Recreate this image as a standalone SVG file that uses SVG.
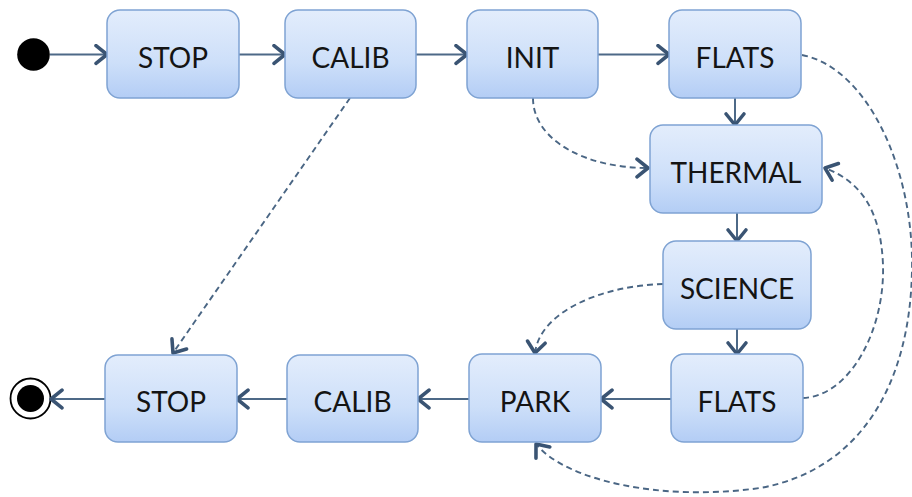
<svg xmlns="http://www.w3.org/2000/svg" width="912" height="497" viewBox="0 0 912 497">
  <defs>
    <linearGradient id="boxFill" x1="0" y1="0" x2="0" y2="1">
      <stop offset="0" stop-color="#e3edfc"/>
      <stop offset="0.6" stop-color="#cddff9"/>
      <stop offset="1" stop-color="#b3cdf5"/>
    </linearGradient>
    <marker id="chev" markerUnits="userSpaceOnUse" markerWidth="18" markerHeight="22" viewBox="-2 -2 14 21" refX="10.5" refY="8.5" orient="auto">
      <path d="M0,0 L10.5,8.5 L0,17" fill="none" stroke="#3a5473" stroke-width="3.4" stroke-linecap="round" stroke-linejoin="round"/>
    </marker>
    <style>
      .state rect { fill: url(#boxFill); stroke: #7fa3d3; stroke-width: 1.5; }
      .state text { font-family: Lato, "Open Sans", "Liberation Sans", sans-serif; font-size: 28px; fill: #141414; text-anchor: middle; }
      .flow { fill: none; stroke: #4d6987; stroke-width: 2; marker-end: url(#chev); }
      .alt { fill: none; stroke: #4a6684; stroke-width: 1.9; stroke-dasharray: 6 4; marker-end: url(#chev); }
    </style>
  </defs>

  <!-- pseudo-states -->
  <g id="start">
    <circle cx="33.5" cy="54.5" r="16.3" fill="#000"/>
  </g>
  <g id="end">
    <circle cx="30.5" cy="398.5" r="20" fill="#fff" stroke="#000" stroke-width="1.8"/>
    <circle cx="30.5" cy="398.5" r="13.5" fill="#000"/>
  </g>

  <!-- transitions -->
  <g id="connectors">
    <line class="flow" x1="50" y1="54.5" x2="107" y2="54.5"/>
    <line class="flow" x1="239" y1="54.5" x2="285" y2="54.5"/>
    <line class="flow" x1="416" y1="54.5" x2="467" y2="54.5"/>
    <line class="flow" x1="598" y1="54.5" x2="669" y2="54.5"/>
    <line class="flow" x1="735" y1="98" x2="735" y2="125"/>
    <line class="flow" x1="737" y1="213" x2="737" y2="241"/>
    <line class="flow" x1="737" y1="329" x2="737" y2="354"/>
    <line class="flow" x1="671" y1="399" x2="601" y2="399"/>
    <line class="flow" x1="469" y1="399" x2="418" y2="399"/>
    <line class="flow" x1="287" y1="399" x2="237" y2="399"/>
    <line class="flow" x1="105" y1="399" x2="51" y2="399"/>

    <line class="alt" x1="350" y1="98" x2="173" y2="353"/>
    <path class="alt" d="M533,98 C533,140 585,168 648,168"/>
    <path class="alt" d="M663,284 C600,286 540,312 535,353"/>
    <path class="alt" d="M803,398 C850,396 885,330 883,265 C881,212 862,182 825,168"/>
    <path class="alt" d="M802,55 C868,68 914,170 912,270 C910,385 860,470 760,488 C660,502 565,480 536,444"/>
  </g>

  <!-- states -->
  <g id="stop1" class="state"><rect x="107" y="10" width="132" height="88" rx="13"/><text x="173" y="67.5">STOP</text></g>
  <g id="calib1" class="state"><rect x="285" y="10" width="131" height="88" rx="13"/><text x="350.5" y="67.5">CALIB</text></g>
  <g id="init" class="state"><rect x="467" y="10" width="131" height="88" rx="13"/><text x="532.5" y="67.5">INIT</text></g>
  <g id="flats1" class="state"><rect x="669" y="10" width="132" height="88" rx="13"/><text x="735" y="67.5">FLATS</text></g>
  <g id="thermal" class="state"><rect x="650" y="125" width="172" height="88" rx="13"/><text x="736" y="182.5">THERMAL</text></g>
  <g id="science" class="state"><rect x="663" y="241" width="148" height="88" rx="13"/><text x="737" y="298.5">SCIENCE</text></g>
  <g id="flats2" class="state"><rect x="671" y="354" width="132" height="88" rx="13"/><text x="737" y="411.5">FLATS</text></g>
  <g id="park" class="state"><rect x="469" y="354" width="132" height="88" rx="13"/><text x="535" y="411.5">PARK</text></g>
  <g id="calib2" class="state"><rect x="287" y="355" width="131" height="87" rx="13"/><text x="352.5" y="412">CALIB</text></g>
  <g id="stop2" class="state"><rect x="105" y="355" width="132" height="87" rx="13"/><text x="171" y="412">STOP</text></g>
</svg>
